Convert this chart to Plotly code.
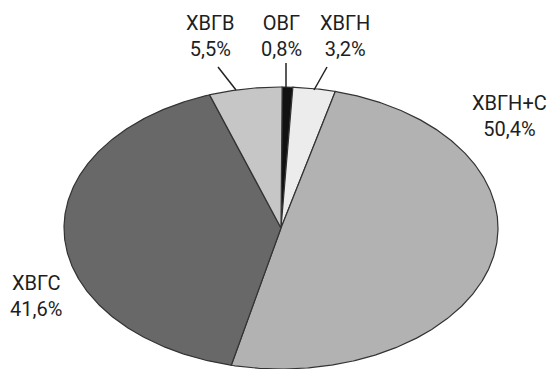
import numpy as np
import plotly.graph_objects as go

# Data
labels = ["ОВГ", "ХВГН", "ХВГН+С", "ХВГС", "ХВГВ"]
values = [0.8, 3.2, 50.4, 41.6, 5.5]
value_text = ["0,8%", "3,2%", "50,4%", "41,6%", "5,5%"]
colors = ["#111111", "#ececec", "#b2b2b2", "#686868", "#c6c6c6"]

# Layout geometry (pixel space)
W, H = 552, 369
cx, cy, rx, ry = 281, 228, 217, 141
start_deg = 0.3  # clockwise from top

fig = go.Figure()
total = sum(values)
cum = 0.0
for lab, v, col in zip(labels, values, colors):
    a0 = start_deg + cum / total * 360
    a1 = start_deg + (cum + v) / total * 360
    cum += v
    n = max(4, int((a1 - a0) * 2))
    ang = np.radians(np.linspace(a0, a1, n))
    xs = np.concatenate([[cx], cx + rx * np.sin(ang), [cx]])
    ys = np.concatenate([[cy], cy - ry * np.cos(ang), [cy]])
    fig.add_trace(go.Scatter(x=xs, y=ys, fill="toself", fillcolor=col,
                             mode="lines", line=dict(color="#333333", width=1.2),
                             hoverinfo="text", text=lab, showlegend=False))

font = dict(family="Roboto, Liberation Sans, sans-serif", size=20, color="#1e1e1e")
label_pos = {
    "ХВГВ": (210, 36),
    "ОВГ": (281, 36),
    "ХВГН": (345, 36),
    "ХВГН+С": (509, 116),
    "ХВГС": (36, 296),
}
for lab, txt in zip(labels, value_text):
    x, y = label_pos[lab]
    fig.add_annotation(x=x, y=y, text=f"{lab}<br>{txt}", showarrow=False,
                       font=font, align="center", xref="x", yref="y")

# leader lines
leaders = [((218, 67), (236, 90)), ((286, 63), (286, 88)), ((327, 67), (314, 90))]
for (x0, y0), (x1, y1) in leaders:
    fig.add_shape(type="line", x0=x0, y0=y0, x1=x1, y1=y1,
                  line=dict(color="#222222", width=1.5), xref="x", yref="y")

fig.update_layout(
    width=W, height=H, margin=dict(l=0, r=0, t=0, b=0),
    paper_bgcolor="white", plot_bgcolor="white",
    xaxis=dict(range=[0, W], visible=False, fixedrange=True),
    yaxis=dict(range=[H, 0], visible=False, fixedrange=True),
)
fig.write_html("out.html")
